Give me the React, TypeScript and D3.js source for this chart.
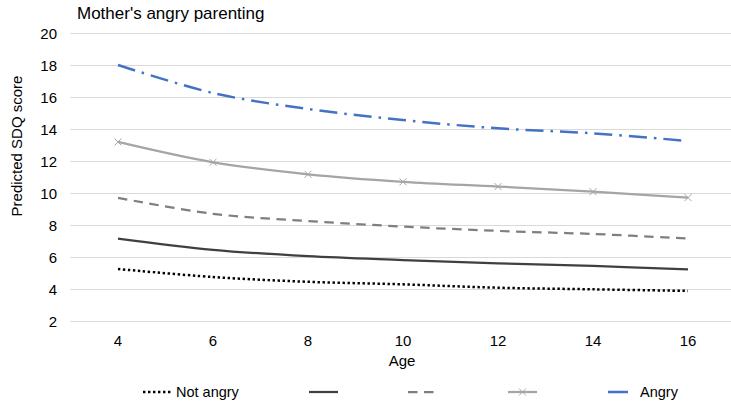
import React from "react";
import * as d3 from "d3";

const ages = [4, 6, 8, 10, 12, 14, 16];
const notAngry = [5.25, 4.75, 4.45, 4.29, 4.08, 3.98, 3.88];
const level2 = [7.15, 6.45, 6.05, 5.81, 5.6, 5.44, 5.23];
const level3 = [9.7, 8.7, 8.25, 7.9, 7.63, 7.44, 7.15];
const level4 = [13.19, 11.92, 11.17, 10.7, 10.4, 10.08, 9.71];
const angry = [18.0, 16.25, 15.25, 14.56, 14.04, 13.73, 13.25];
const yTicks = [2, 4, 6, 8, 10, 12, 14, 16, 18, 20];
const legendLabels = ["Not angry", "", "", "", "Angry"];

const FONT = "'Liberation Sans', Arial, sans-serif";

type SeriesStyle = { color: string; width: number; dash?: string; cap?: string; marker?: boolean };
const styles: SeriesStyle[] = [
  { color: "#000000", width: 2.5, dash: "2.4,2.6" },
  { color: "#404040", width: 2.25 },
  { color: "#7f7f7f", width: 2.25, dash: "9.5,6.5" },
  { color: "#a5a5a5", width: 2.25, marker: true },
  { color: "#4472c4", width: 2.5, dash: "18,7,2.5,7" },
];
const seriesData = [notAngry, level2, level3, level4, angry];
const legendX = [143, 309, 408, 508, 608];
const legendLen = [28, 29, 28, 29, 20];

export default function App() {
  const W = 731, H = 403;
  const x = d3.scalePoint<number>().domain(ages).range([70.5, 735.5]).padding(0.5);
  const y = d3.scaleLinear().domain([2, 20]).range([321, 33]);
  const line = d3
    .line<[number, number]>()
    .x((d) => x(d[0]) as number)
    .y((d) => y(d[1]))
    .curve(d3.curveCatmullRom.alpha(0.5));

  const cross = (cx: number, cy: number, color: string, key: string) => (
    <path
      key={key}
      d={`M${cx - 3.5},${cy - 3.5}L${cx + 3.5},${cy + 3.5}M${cx - 3.5},${cy + 3.5}L${cx + 3.5},${cy - 3.5}`}
      stroke={color}
      strokeWidth={1}
      fill="none"
    />
  );

  return (
    <svg
      width={W}
      height={H}
      style={{ position: "absolute", left: 0, top: 0, background: "#fff" }}
      fontFamily={FONT}
    >
      <rect width={W} height={H} fill="#fff" />
      {yTicks.map((t) => (
        <line key={t} x1={70.5} x2={735.5} y1={Math.round(y(t)) + 0.5} y2={Math.round(y(t)) + 0.5} stroke="#d9d9d9" strokeWidth={1} />
      ))}
      {yTicks.map((t) => (
        <text key={"yl" + t} x={57} y={y(t)} textAnchor="end" dominantBaseline="central" fontSize={15} fill="#000">
          {t}
        </text>
      ))}
      {ages.map((a) => (
        <text key={"xl" + a} x={x(a)} y={340} textAnchor="middle" dominantBaseline="central" fontSize={15} fill="#000">
          {a}
        </text>
      ))}
      <text x={77} y={19} fontSize={17} fill="#000">Mother's angry parenting</text>
      <text x={402} y={360} textAnchor="middle" dominantBaseline="central" fontSize={15} fill="#000">Age</text>
      <text
        transform={`translate(16,146) rotate(-90)`}
        textAnchor="middle"
        dominantBaseline="central"
        fontSize={15}
        fill="#000"
      >
        Predicted SDQ score
      </text>
      {seriesData.map((vals, i) => {
        const s = styles[i];
        const pts = ages.map((a, j) => [a, vals[j]] as [number, number]);
        return (
          <g key={"s" + i}>
            <path d={line(pts) || ""} fill="none" stroke={s.color} strokeWidth={s.width} strokeDasharray={s.dash} />
            {s.marker && pts.map((p, j) => cross(x(p[0]) as number, y(p[1]), s.color, "m" + j))}
          </g>
        );
      })}
      {styles.map((s, i) => (
        <g key={"lg" + i}>
          <line
            x1={legendX[i]}
            x2={legendX[i] + legendLen[i]}
            y1={392}
            y2={392}
            stroke={s.color}
            strokeWidth={s.width}
            strokeDasharray={i === 4 ? undefined : s.dash}
          />
          {s.marker && cross(legendX[i] + legendLen[i] / 2, 392, s.color, "lm")}
          {legendLabels[i] && (
            <text x={i === 4 ? 640 : legendX[i] + legendLen[i] + 5} y={392} dominantBaseline="central" fontSize={14.5} fill="#000">
              {legendLabels[i]}
            </text>
          )}
        </g>
      ))}
    </svg>
  );
}
